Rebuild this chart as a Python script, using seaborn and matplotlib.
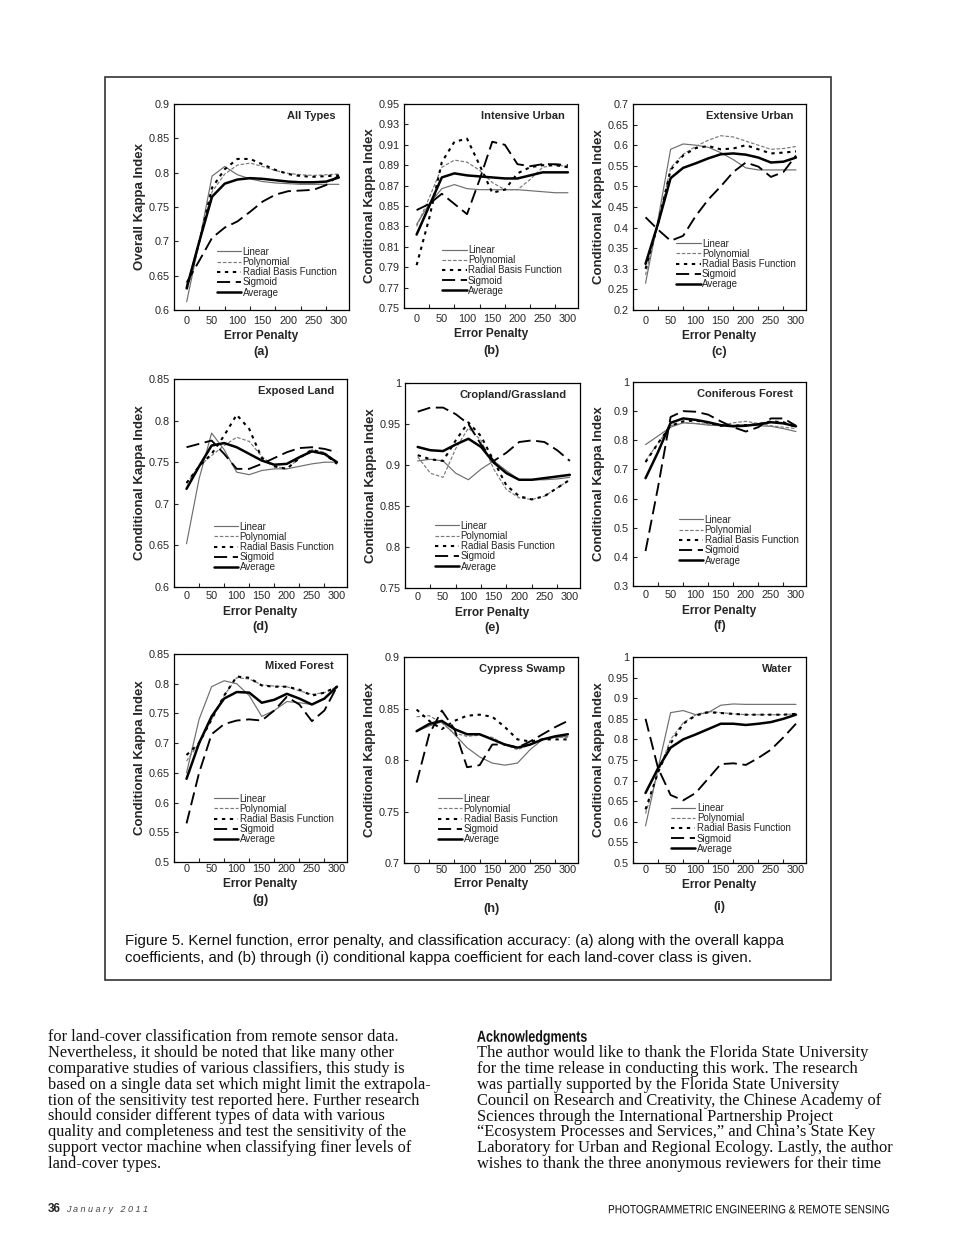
import pandas as pd
import seaborn as sns
import matplotlib.pyplot as plt
from matplotlib.patches import Rectangle, PathPatch
from matplotlib.textpath import TextPath
from matplotlib.font_manager import FontProperties
from matplotlib.transforms import Affine2D
from matplotlib.ticker import MultipleLocator, FixedLocator, FuncFormatter

# Data
error_penalty = [0, 25, 50, 75, 100, 125, 150, 175, 200, 225, 250, 275, 300]
kernels = ['Linear', 'Polynomial', 'Radial Basis Function', 'Sigmoid', 'Average']

all_types = {
    'Linear': [0.612, 0.700, 0.795, 0.809, 0.797, 0.791, 0.787, 0.785, 0.784, 0.783, 0.783, 0.783, 0.783],
    'Polynomial': [0.635, 0.700, 0.772, 0.798, 0.811, 0.814, 0.809, 0.803, 0.799, 0.797, 0.796, 0.797, 0.798],
    'Radial Basis Function': [0.630, 0.700, 0.778, 0.805, 0.820, 0.820, 0.812, 0.804, 0.798, 0.795, 0.794, 0.795, 0.796],
    'Sigmoid': [0.640, 0.672, 0.705, 0.720, 0.729, 0.743, 0.758, 0.768, 0.773, 0.774, 0.775, 0.782, 0.796],
    'Average': [0.632, 0.700, 0.765, 0.784, 0.790, 0.792, 0.791, 0.789, 0.787, 0.786, 0.786, 0.787, 0.793],
}
intensive_urban = {
    'Linear': [0.832, 0.852, 0.867, 0.871, 0.867, 0.866, 0.866, 0.866, 0.866, 0.865, 0.864, 0.863, 0.863],
    'Polynomial': [0.830, 0.858, 0.888, 0.895, 0.893, 0.885, 0.873, 0.866, 0.866, 0.876, 0.888, 0.890, 0.889],
    'Radial Basis Function': [0.792, 0.838, 0.893, 0.913, 0.916, 0.890, 0.863, 0.866, 0.882, 0.888, 0.890, 0.890, 0.888],
    'Sigmoid': [0.846, 0.852, 0.862, 0.852, 0.842, 0.876, 0.913, 0.910, 0.891, 0.889, 0.891, 0.891, 0.890],
    'Average': [0.822, 0.850, 0.878, 0.882, 0.880, 0.879, 0.878, 0.877, 0.877, 0.880, 0.883, 0.883, 0.883],
}
extensive_urban = {
    'Linear': [0.265, 0.420, 0.590, 0.603, 0.600, 0.595, 0.582, 0.565, 0.545, 0.540, 0.540, 0.540, 0.540],
    'Polynomial': [0.285, 0.410, 0.545, 0.578, 0.597, 0.612, 0.623, 0.620, 0.610, 0.600, 0.590, 0.592, 0.597],
    'Radial Basis Function': [0.300, 0.410, 0.540, 0.575, 0.593, 0.598, 0.590, 0.592, 0.600, 0.590, 0.580, 0.582, 0.585],
    'Sigmoid': [0.425, 0.395, 0.368, 0.380, 0.428, 0.468, 0.500, 0.535, 0.558, 0.548, 0.523, 0.535, 0.575],
    'Average': [0.312, 0.410, 0.520, 0.545, 0.556, 0.568, 0.578, 0.580, 0.577, 0.570, 0.558, 0.560, 0.570],
}
exposed_land = {
    'Linear': [0.652, 0.730, 0.785, 0.765, 0.738, 0.735, 0.740, 0.742, 0.742, 0.745, 0.748, 0.750, 0.750],
    'Polynomial': [0.725, 0.745, 0.758, 0.770, 0.780, 0.775, 0.757, 0.745, 0.742, 0.755, 0.765, 0.762, 0.750],
    'Radial Basis Function': [0.725, 0.745, 0.760, 0.782, 0.807, 0.790, 0.755, 0.745, 0.742, 0.755, 0.765, 0.760, 0.748],
    'Sigmoid': [0.768, 0.772, 0.776, 0.760, 0.742, 0.742, 0.748, 0.755, 0.762, 0.767, 0.768, 0.766, 0.762],
    'Average': [0.718, 0.745, 0.770, 0.773, 0.768, 0.760, 0.752, 0.747, 0.748, 0.756, 0.763, 0.760, 0.750],
}
cropland_grassland = {
    'Linear': [0.905, 0.907, 0.905, 0.890, 0.882, 0.895, 0.905, 0.893, 0.882, 0.882, 0.882, 0.883, 0.885],
    'Polynomial': [0.910, 0.890, 0.885, 0.920, 0.945, 0.930, 0.895, 0.870, 0.860, 0.858, 0.862, 0.872, 0.882],
    'Radial Basis Function': [0.912, 0.907, 0.905, 0.930, 0.952, 0.935, 0.905, 0.875, 0.862, 0.858, 0.862, 0.872, 0.882],
    'Sigmoid': [0.965, 0.970, 0.970, 0.962, 0.950, 0.925, 0.905, 0.915, 0.928, 0.930, 0.928, 0.918, 0.905],
    'Average': [0.922, 0.918, 0.917, 0.925, 0.932, 0.922, 0.903, 0.890, 0.882, 0.882, 0.884, 0.886, 0.888],
}
coniferous_forest = {
    'Linear': [0.785, 0.815, 0.845, 0.860, 0.857, 0.852, 0.850, 0.852, 0.852, 0.850, 0.848, 0.840, 0.830],
    'Polynomial': [0.730, 0.790, 0.850, 0.860, 0.858, 0.855, 0.850, 0.860, 0.865, 0.858, 0.850, 0.845, 0.840],
    'Radial Basis Function': [0.725, 0.790, 0.850, 0.865, 0.868, 0.860, 0.850, 0.850, 0.852, 0.855, 0.865, 0.862, 0.845],
    'Sigmoid': [0.420, 0.640, 0.880, 0.900, 0.898, 0.888, 0.865, 0.845, 0.830, 0.845, 0.875, 0.875, 0.850],
    'Average': [0.670, 0.760, 0.860, 0.875, 0.870, 0.862, 0.852, 0.848, 0.850, 0.855, 0.862, 0.858, 0.848],
}
mixed_forest = {
    'Linear': [0.650, 0.740, 0.795, 0.805, 0.800, 0.780, 0.745, 0.755, 0.770, 0.768, 0.765, 0.775, 0.795],
    'Polynomial': [0.670, 0.700, 0.740, 0.780, 0.810, 0.808, 0.798, 0.796, 0.795, 0.788, 0.782, 0.785, 0.795],
    'Radial Basis Function': [0.680, 0.700, 0.740, 0.780, 0.812, 0.810, 0.797, 0.795, 0.795, 0.790, 0.780, 0.785, 0.795],
    'Sigmoid': [0.565, 0.650, 0.715, 0.732, 0.738, 0.740, 0.738, 0.755, 0.778, 0.765, 0.737, 0.755, 0.795],
    'Average': [0.640, 0.700, 0.745, 0.775, 0.786, 0.785, 0.768, 0.773, 0.783, 0.775, 0.765, 0.775, 0.795],
}
cypress_swamp = {
    'Linear': [0.828, 0.833, 0.837, 0.825, 0.812, 0.803, 0.797, 0.795, 0.797, 0.810, 0.820, 0.822, 0.823],
    'Polynomial': [0.842, 0.843, 0.836, 0.826, 0.823, 0.824, 0.822, 0.815, 0.810, 0.815, 0.820, 0.822, 0.822],
    'Radial Basis Function': [0.849, 0.838, 0.830, 0.838, 0.843, 0.844, 0.842, 0.832, 0.820, 0.818, 0.820, 0.820, 0.820],
    'Sigmoid': [0.778, 0.825, 0.848, 0.830, 0.793, 0.795, 0.815, 0.815, 0.812, 0.818, 0.825, 0.832, 0.838],
    'Average': [0.828, 0.835, 0.838, 0.830, 0.825, 0.825, 0.820, 0.815, 0.812, 0.815, 0.820, 0.823, 0.825],
}
water = {
    'Linear': [0.590, 0.730, 0.865, 0.870, 0.860, 0.865, 0.883, 0.886, 0.885, 0.885, 0.885, 0.885, 0.885],
    'Polynomial': [0.620, 0.720, 0.800, 0.840, 0.860, 0.868, 0.865, 0.862, 0.860, 0.860, 0.860, 0.860, 0.862],
    'Radial Basis Function': [0.630, 0.720, 0.790, 0.838, 0.858, 0.866, 0.864, 0.862, 0.860, 0.860, 0.860, 0.860, 0.862],
    'Sigmoid': [0.850, 0.730, 0.665, 0.652, 0.670, 0.705, 0.740, 0.742, 0.738, 0.755, 0.775, 0.805, 0.838],
    'Average': [0.670, 0.730, 0.780, 0.800, 0.812, 0.825, 0.838, 0.838, 0.835, 0.838, 0.842, 0.850, 0.860],
}

titles = ['All Types', 'Intensive Urban', 'Extensive Urban', 'Exposed Land', 'Cropland/Grassland',
          'Coniferous Forest', 'Mixed Forest', 'Cypress Swamp', 'Water']
letters = ['(a)', '(b)', '(c)', '(d)', '(e)', '(f)', '(g)', '(h)', '(i)']
panel_data = [all_types, intensive_urban, extensive_urban, exposed_land, cropland_grassland,
              coniferous_forest, mixed_forest, cypress_swamp, water]
y_ranges = [(0.6, 0.9, 0.05), (0.75, 0.95, 0.02), (0.2, 0.7, 0.05),
            (0.6, 0.85, 0.05), (0.75, 1.0, 0.05), (0.3, 1.0, 0.1),
            (0.5, 0.85, 0.05), (0.7, 0.9, 0.05), (0.5, 1.0, 0.05)]

# Layout (pixels on the 960x1246 page): left, right, top, bottom of each plot area
W, H = 960, 1246
boxes = [(174, 349, 104, 310), (404, 578, 104, 308), (633, 806, 104, 310),
         (174, 347, 379, 587), (405, 580, 383, 588), (633, 806, 382, 586),
         (174, 347, 654, 862), (404, 578, 657, 863), (633, 806, 657, 863)]
legend_pos = [(0.245, 0.06), (0.22, 0.06), (0.25, 0.10),
              (0.23, 0.07), (0.17, 0.08), (0.265, 0.10),
              (0.23, 0.085), (0.195, 0.09), (0.22, 0.045)]
# offsets below the plot area: tick pad, x label, panel letter
label_offsets = [(4, 26, 42), (4, 26, 43), (4, 26, 42),
                 (3, 25, 40), (3, 25, 40), (3, 25, 40),
                 (1.5, 22, 38), (1.5, 21, 46), (1.5, 22, 44)]

palette = {'Linear': '#6e6e6e', 'Polynomial': '#7a7a7a', 'Radial Basis Function': 'black',
           'Sigmoid': 'black', 'Average': 'black'}
dashes = {'Linear': '', 'Polynomial': (3, 1.5), 'Radial Basis Function': (1.6, 2.2),
          'Sigmoid': (7, 3), 'Average': ''}
widths = {'Linear': 0.85, 'Polynomial': 0.85, 'Radial Basis Function': 1.5,
          'Sigmoid': 1.35, 'Average': 1.8}

sns.set_theme(style='white')
plt.rcParams['font.family'] = ['Liberation Sans', 'DejaVu Sans']
plt.rcParams['axes.edgecolor'] = 'black'
plt.rcParams['axes.linewidth'] = 0.9

fig = plt.figure(figsize=(W / 100, H / 100), dpi=100)
fig.patch.set_facecolor('white')
px = Affine2D().scale(1 / W, 1 / H) + fig.transFigure


def fmt(v, pos):
    return f'{v:.2f}'.rstrip('0').rstrip('.')


def narrow_text(x, y, s, size, sx, weight='normal', color='#111111', align='left'):
    # squeezed text drawn as a path, for the condensed journal fonts
    tp = TextPath((0, 0), s, size=size, prop=FontProperties(family='Liberation Sans', weight=weight))
    bb = tp.get_extents()
    x0 = x - bb.width * sx if align == 'right' else x
    tr = Affine2D().translate(0, -size * 0.36).scale(sx, 1).translate(x0, H - y) + px
    fig.add_artist(PathPatch(tp, transform=tr, fc=color, ec='none', lw=0))


for i in range(9):
    l, r, t, b = boxes[i]
    ax = fig.add_axes([l / W, 1 - b / H, (r - l) / W, (b - t) / H])
    df = pd.DataFrame({
        'Error Penalty': error_penalty * len(kernels),
        'Kappa': sum([panel_data[i][k] for k in kernels], []),
        'Kernel': [k for k in kernels for _ in error_penalty],
    })
    sns.lineplot(data=df, x='Error Penalty', y='Kappa', hue='Kernel', style='Kernel', size='Kernel',
                 hue_order=kernels, style_order=kernels, size_order=kernels,
                 palette=palette, dashes=dashes, sizes=widths, estimator=None, ax=ax)

    y0, y1, step = y_ranges[i]
    n = int(round((y1 - y0) / step))
    ax.set_xlim(-25, 320)
    ax.set_ylim(y0, y1)
    ax.xaxis.set_major_locator(MultipleLocator(50))
    ax.xaxis.set_minor_locator(MultipleLocator(50, offset=25))
    ax.yaxis.set_major_locator(FixedLocator([round(y0 + k * step, 3) for k in range(n + 1)]))
    ax.yaxis.set_major_formatter(FuncFormatter(fmt))
    tpad, xo, lo = label_offsets[i]
    ax.tick_params(axis='x', which='major', length=0, labelsize=7.8, pad=tpad)
    ax.tick_params(axis='x', which='minor', direction='in', length=3, width=0.8, bottom=True)
    ax.tick_params(axis='y', direction='in', length=3, width=0.8, left=True, labelsize=7.8, pad=3)
    for s in ax.spines.values():
        s.set_color('black')
        s.set_linewidth(0.9)
    ax.set_xlabel('')
    ax.set_ylabel('')

    axw, axh = r - l, b - t
    ylab = 'Overall Kappa Index' if i == 0 else 'Conditional Kappa Index'
    ax.text(-34 / axw, 0.5, ylab, transform=ax.transAxes, rotation=90, ha='center', va='center',
            fontsize=9.5, fontweight='bold')
    ax.text(0.5, -xo / axh, 'Error Penalty', transform=ax.transAxes, ha='center', va='center',
            fontsize=8.6, fontweight='bold')
    ax.text(0.5, -lo / axh, letters[i], transform=ax.transAxes, ha='center', va='center',
            fontsize=9.2, fontweight='bold')
    ax.text(1 - 13 / axw, 1 - 12 / axh, titles[i], transform=ax.transAxes, ha='right', va='center',
            fontsize=8, fontweight='bold')

    handles, labels = ax.get_legend_handles_labels()
    keep = [(h, lb) for h, lb in zip(handles, labels) if lb in kernels]
    ax.legend([h for h, _ in keep], [lb for _, lb in keep], loc='lower left',
              bbox_to_anchor=legend_pos[i], frameon=False, fontsize=7, handlelength=2.5,
              handletextpad=0.15, labelspacing=0.02, borderpad=0, borderaxespad=0)

# Figure frame and caption
fig.add_artist(Rectangle((105 / W, 1 - 980 / H), (831 - 105) / W, (980 - 77) / H, fill=False,
                         lw=1.2, ec='#333333', transform=fig.transFigure))
caption = ['Figure 5. Kernel function, error penalty, and classification accuracy: (a) along with the overall kappa',
           'coefficients, and (b) through (i) conditional kappa coefficient for each land-cover class is given.']
for j, line in enumerate(caption):
    fig.text(125 / W, 1 - (941 + 17 * j) / H, line, ha='left', va='center', fontsize=10.8, color='#111111')

# Body text below the figure
left_col = ['for land-cover classification from remote sensor data.',
            'Nevertheless, it should be noted that like many other',
            'comparative studies of various classifiers, this study is',
            'based on a single data set which might limit the extrapola-',
            'tion of the sensitivity test reported here. Further research',
            'should consider different types of data with various',
            'quality and completeness and test the sensitivity of the',
            'support vector machine when classifying finer levels of',
            'land-cover types.']
right_col = ['The author would like to thank the Florida State University',
             'for the time release in conducting this work. The research',
             'was partially supported by the Florida State University',
             'Council on Research and Creativity, the Chinese Academy of',
             'Sciences through the International Partnership Project',
             '\u201cEcosystem Processes and Services,\u201d and China\u2019s State Key',
             'Laboratory for Urban and Regional Ecology. Lastly, the author',
             'wishes to thank the three anonymous reviewers for their time']
for j, line in enumerate(left_col):
    fig.text(48 / W, 1 - (1037 + 15.9 * j) / H, line, ha='left', va='center',
             fontsize=11.8, family='Liberation Serif', color='#111111')
narrow_text(477, 1036, 'Acknowledgments', 16, 0.78, weight='bold')
for j, line in enumerate(right_col):
    fig.text(477 / W, 1 - (1053 + 15.9 * j) / H, line, ha='left', va='center',
             fontsize=11.9, family='Liberation Serif', color='#111111')

# Footer
fig.text(48 / W, 1 - 1209 / H, '36', ha='left', va='center', fontsize=8.5, fontweight='bold')
fig.text(66 / W, 1 - 1209 / H, 'J a n u a r y   2 0 1 1', ha='left', va='center', fontsize=6.5,
         style='italic', color='#444444')
narrow_text(888, 1209, 'PHOTOGRAMMETRIC ENGINEERING & REMOTE SENSING', 12, 0.84, align='right')

fig.savefig('out.png', dpi=100, facecolor='white')
